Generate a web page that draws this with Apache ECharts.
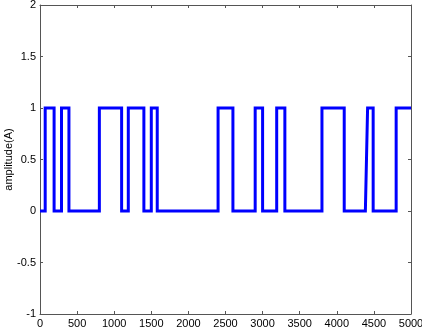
<!DOCTYPE html>
<html><head><meta charset="utf-8">
<script src="https://cdn.jsdelivr.net/npm/echarts@6/dist/echarts.min.js"></script>
<style>html,body{margin:0;padding:0;background:#fff}#c{width:422px;height:330px}</style>
</head><body><div id="c"></div>
<script>
// Square-wave vertices (sample index, amplitude)
var sampleX = [0, 70, 70, 190, 190, 290, 290, 390, 390, 800, 800, 1100, 1100, 1190, 1190, 1400, 1400, 1500, 1500, 1580, 1580, 2400, 2400, 2600, 2600, 2900, 2900, 3000, 3000, 3190, 3190, 3300, 3300, 3800, 3800, 4100, 4100, 4385, 4415, 4490, 4490, 4800, 4800, 5000];
var amplitude = [0, 0, 1, 1, 0, 0, 1, 1, 0, 0, 1, 1, 0, 0, 1, 1, 0, 0, 1, 1, 0, 0, 1, 1, 0, 0, 1, 1, 0, 0, 1, 1, 0, 0, 1, 1, 0, 0, 1, 1, 0, 0, 1, 1];
var xTicks = [0, 500, 1000, 1500, 2000, 2500, 3000, 3500, 4000, 4500, 5000];
var yTicks = [-1, -0.5, 0, 0.5, 1, 1.5, 2];
var yName = 'amplitude(A)';

var pts = sampleX.map(function (x, i) { return [x, amplitude[i]]; });
var axisColor = '#555';
var font = 'Arial, "Liberation Sans", sans-serif';
var chart = echarts.init(document.getElementById('c'), null, {renderer: 'canvas'});
function xAxisCfg(pos, labels) {
  return {
    type: 'value', position: pos, min: xTicks[0], max: xTicks[xTicks.length - 1], interval: 500,
    axisLine: {show: true, onZero: false, lineStyle: {color: axisColor, width: 1}},
    axisTick: {show: true, inside: true, length: 3, lineStyle: {color: axisColor}},
    axisLabel: {show: labels, color: '#000', fontSize: 11, fontFamily: font, margin: 4,
      formatter: function (v) { return String(v); }},
    splitLine: {show: false}
  };
}
function yAxisCfg(pos, labels) {
  return {
    type: 'value', position: pos, min: yTicks[0], max: yTicks[yTicks.length - 1], interval: 0.5,
    axisLine: {show: true, onZero: false, lineStyle: {color: axisColor, width: 1}},
    axisTick: {show: true, inside: true, length: 3, lineStyle: {color: axisColor}},
    axisLabel: {show: labels, color: '#000', fontSize: 11, fontFamily: font, margin: 4,
      formatter: function (v) { return String(v); }},
    splitLine: {show: false},
    name: labels ? yName : '', nameLocation: 'middle', nameGap: 26, nameMoveOverlap: false,
    nameTextStyle: {color: '#000', fontSize: 11, fontFamily: font}
  };
}
chart.setOption({
  animation: false,
  backgroundColor: '#fff',
  grid: {left: 40, right: 11, top: 5, bottom: 16, containLabel: false, outerBoundsMode: 'none'},
  xAxis: [xAxisCfg('bottom', true), xAxisCfg('top', false)],
  yAxis: [yAxisCfg('left', true), yAxisCfg('right', false)],
  series: [{
    type: 'line', data: pts, xAxisIndex: 0, yAxisIndex: 0,
    showSymbol: false, symbol: 'none',
    lineStyle: {color: '#0000ff', width: 3, join: 'miter'}
  }]
});
</script></body></html>
